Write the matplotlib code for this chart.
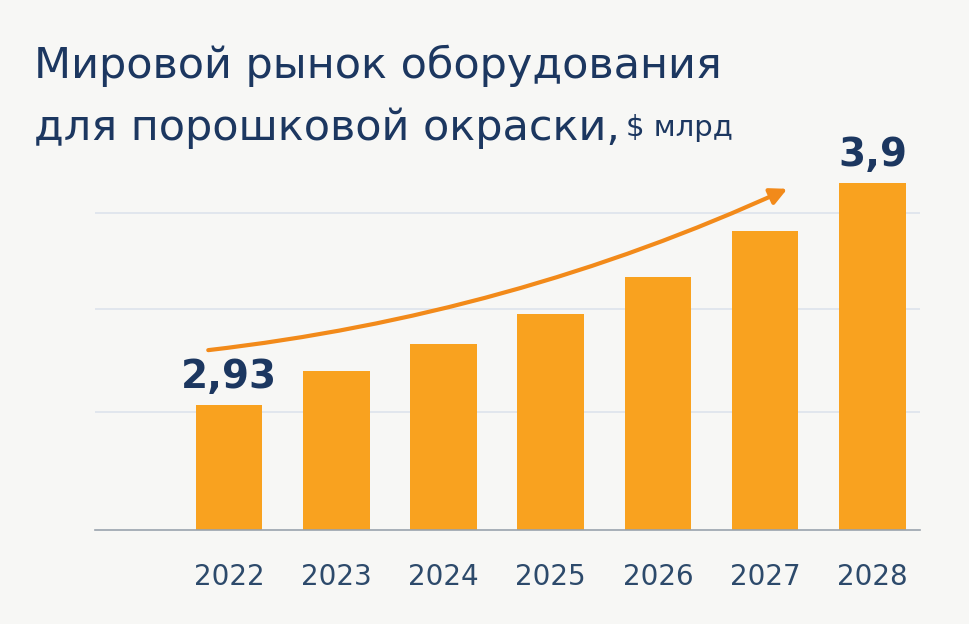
import matplotlib
matplotlib.use("Agg")
import matplotlib.pyplot as plt

years = ["2022", "2023", "2024", "2025", "2026", "2027", "2028"]
values = [2.93, 3.08, 3.20, 3.33, 3.49, 3.69, 3.90]
labels = {0: "2,93", 6: "3,9"}
grid_vals = [2.90, 3.35, 3.77]

navy = "#1c3760"
orange = "#f9a21f"

fig = plt.figure(figsize=(9.7, 6.24), dpi=100)
fig.patch.set_facecolor("#f7f7f5")
ax = fig.add_axes([0.098, 0.151, 0.85, 0.61])
ax.set_facecolor("#f7f7f5")
x = list(range(len(years)))
ymin = 2.388
ax.set_ylim(ymin, 4.048)
ax.set_xlim(-1.25, 6.44)
for g in grid_vals:
    ax.axhline(g, color="#dde3ec", lw=1.2, zorder=0)
ax.bar(x, [v - ymin for v in values], bottom=ymin, width=0.62, color=orange, zorder=2)
for i, t in labels.items():
    ax.text(x[i], values[i] + 0.04, t, ha="center", va="bottom", fontsize=28,
            fontweight="bold", color=navy)
ax.annotate("", xy=(5.23, 3.88), xytext=(-0.22, 3.17),
            arrowprops=dict(arrowstyle="-|>,head_length=1.0,head_width=0.5", color="#f28a1a",
                            lw=3, connectionstyle="arc3,rad=0.08"), zorder=3)
for s in ["top", "right", "left"]:
    ax.spines[s].set_visible(False)
ax.spines["bottom"].set_color("#9aa3ad")
ax.spines["bottom"].set_linewidth(1.2)
ax.set_yticks([])
ax.set_xticks(x)
ax.set_xticklabels(years, fontsize=20, color="#2d4a6b")
ax.tick_params(axis="x", length=0, pad=24)

fig.text(0.035, 0.895, "Мировой рынок оборудования", fontsize=31, color=navy,
         fontweight="medium", va="center")
fig.text(0.035, 0.795, "для порошковой окраски,", fontsize=31, color=navy,
         fontweight="medium", va="center")
fig.text(0.645, 0.795, "$ млрд", fontsize=21, color=navy, va="center")

fig.savefig("out.png", dpi=100, facecolor=fig.get_facecolor())
